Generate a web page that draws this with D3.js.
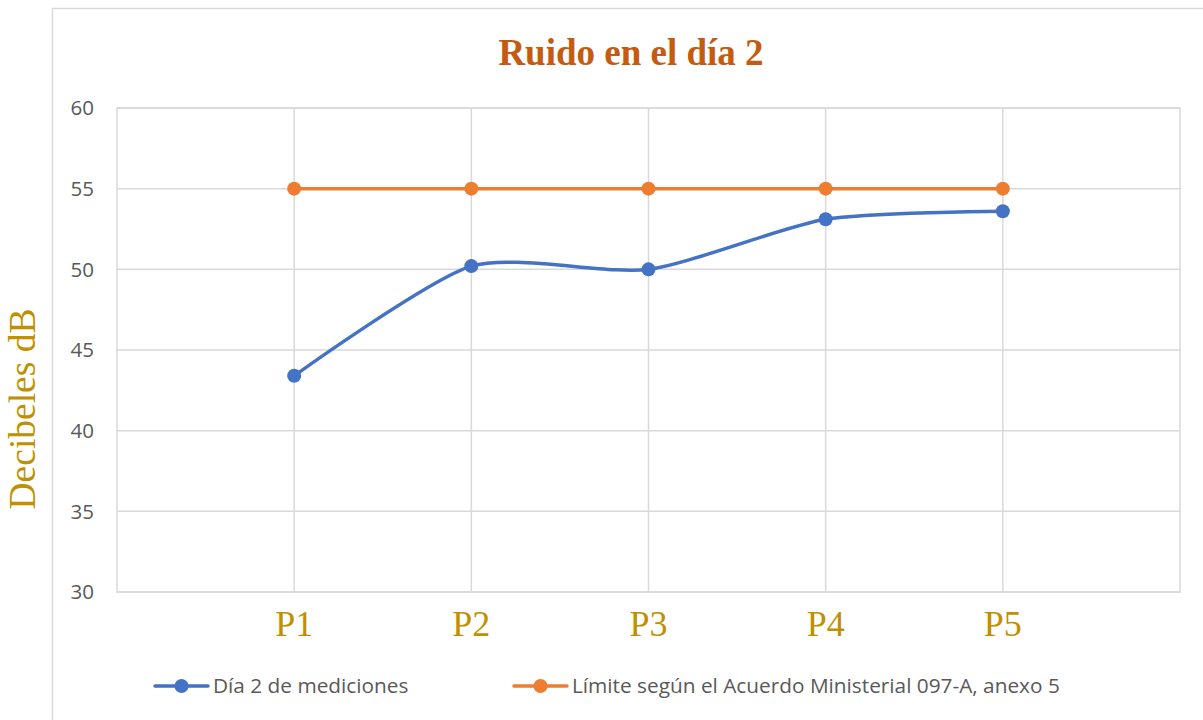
<!DOCTYPE html>
<html>
<head>
<meta charset="utf-8">
<script src="https://cdn.jsdelivr.net/npm/d3@7"></script>
<style>
  body { margin: 0; background: white; }
</style>
</head>
<body>
<div id="myVis"></div>
<script>
var w = 1203;
var h = 720;

// Data
var puntos = ["P1", "P2", "P3", "P4", "P5"];
var dia2 = [43.4, 50.2, 50.0, 53.1, 53.6];
var limite = [55, 55, 55, 55, 55];
var yTicks = [30, 35, 40, 45, 50, 55, 60];
var seriesNames = ["Día 2 de mediciones", "Límite según el Acuerdo Ministerial 097-A, anexo 5"];
var colors = ["#4472C4", "#ED7D31"];

var plotL = 117, plotR = 1180, plotT = 108, plotB = 592;

var svg = d3.select("#myVis").append("svg")
  .attr("width", w)
  .attr("height", h)
  .style("display", "block");

// chart frame
svg.append("rect")
  .attr("x", 52.5).attr("y", 8.5)
  .attr("width", 1200).attr("height", 740)
  .attr("fill", "white")
  .attr("stroke", "#d9d9d9")
  .attr("stroke-width", 1.5);

var xScale = d3.scalePoint()
  .domain(puntos)
  .range([plotL, plotR])
  .padding(1);

var yScale = d3.scaleLinear()
  .domain([30, 60])
  .range([plotB, plotT]);

// horizontal gridlines
svg.append("g").selectAll("line")
  .data(yTicks)
  .enter().append("line")
  .attr("x1", plotL).attr("x2", plotR)
  .attr("y1", function(d) { return yScale(d); })
  .attr("y2", function(d) { return yScale(d); })
  .attr("stroke", "#d9d9d9").attr("stroke-width", 1.5);

// vertical gridlines
svg.append("g").selectAll("line")
  .data(puntos)
  .enter().append("line")
  .attr("x1", function(d) { return xScale(d); })
  .attr("x2", function(d) { return xScale(d); })
  .attr("y1", plotT).attr("y2", plotB)
  .attr("stroke", "#d9d9d9").attr("stroke-width", 1.5);

// plot border
svg.append("rect")
  .attr("x", plotL).attr("y", plotT)
  .attr("width", plotR - plotL).attr("height", plotB - plotT)
  .attr("fill", "none")
  .attr("stroke", "#d9d9d9").attr("stroke-width", 1.5);

// y axis labels
svg.append("g").selectAll("text")
  .data(yTicks)
  .enter().append("text")
  .attr("x", 94)
  .attr("y", function(d) { return yScale(d); })
  .attr("dy", "0.35em")
  .attr("text-anchor", "end")
  .attr("font-family", "'Open Sans', 'Liberation Sans', sans-serif")
  .attr("font-size", 20.5)
  .attr("fill", "#595959")
  .text(function(d) { return d; });

// x axis labels
svg.append("g").selectAll("text")
  .data(puntos)
  .enter().append("text")
  .attr("x", function(d) { return xScale(d); })
  .attr("y", 636)
  .attr("text-anchor", "middle")
  .attr("font-family", "'Liberation Serif', 'DejaVu Serif', serif")
  .attr("font-size", 36)
  .attr("fill", "#BF9000")
  .text(function(d) { return d; });

// y title
svg.append("text")
  .attr("transform", "translate(35,409) rotate(-90)")
  .attr("text-anchor", "middle")
  .attr("font-family", "'Liberation Serif', 'DejaVu Serif', serif")
  .attr("font-size", 37.5)
  .attr("fill", "#BF9000")
  .text("Decibeles dB");

// title
svg.append("text")
  .attr("x", 631).attr("y", 65)
  .attr("text-anchor", "middle")
  .attr("font-family", "'Liberation Serif', 'DejaVu Serif', serif")
  .attr("font-weight", "bold")
  .attr("font-size", 37)
  .attr("fill", "#C55A11")
  .text("Ruido en el día 2");

function drawSeries(values, color, curve) {
  var line = d3.line()
    .x(function(d, i) { return xScale(puntos[i]); })
    .y(function(d) { return yScale(d); })
    .curve(curve);
  svg.append("path")
    .datum(values)
    .attr("d", line)
    .attr("fill", "none")
    .attr("stroke", color)
    .attr("stroke-width", 3.5)
    .attr("stroke-linecap", "round");
  svg.append("g").selectAll("circle")
    .data(values)
    .enter().append("circle")
    .attr("cx", function(d, i) { return xScale(puntos[i]); })
    .attr("cy", function(d) { return yScale(d); })
    .attr("r", 7)
    .attr("fill", color);
}

drawSeries(limite, colors[1], d3.curveLinear);
drawSeries(dia2, colors[0], d3.curveCardinal.tension(0.3));

// legend
var legendX = [155, 514];
var legend = svg.append("g").selectAll("g")
  .data(seriesNames)
  .enter().append("g")
  .attr("transform", function(d, i) { return "translate(" + legendX[i] + ",686)"; });
legend.append("line")
  .attr("x1", 0).attr("x2", 53)
  .attr("stroke", function(d, i) { return colors[i]; })
  .attr("stroke-width", 3.5)
  .attr("stroke-linecap", "round");
legend.append("circle")
  .attr("cx", 26.5).attr("r", 7)
  .attr("fill", function(d, i) { return colors[i]; });
legend.append("text")
  .attr("x", 58)
  .attr("dy", "0.35em")
  .attr("font-family", "'Open Sans', 'Liberation Sans', sans-serif")
  .attr("font-size", 20.8)
  .attr("fill", "#595959")
  .text(function(d) { return d; });
</script>
</body>
</html>
